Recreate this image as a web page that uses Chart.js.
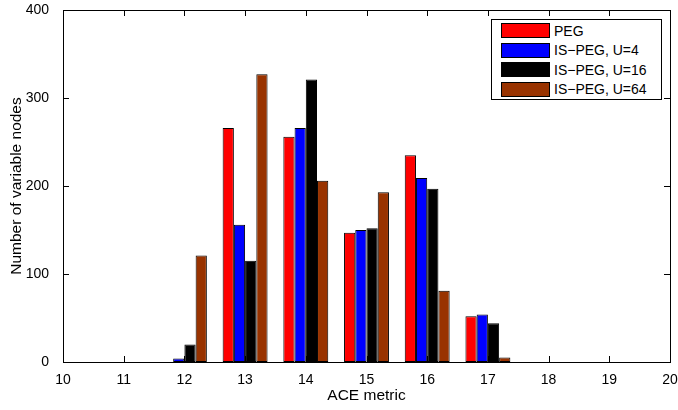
<!DOCTYPE html>
<html>
<head>
<meta charset="utf-8">
<script src="https://cdn.jsdelivr.net/npm/chart.js@4/dist/chart.umd.min.js"></script>
<style>
  html, body { margin: 0; padding: 0; background: #fff; }
  #wrap { position: relative; width: 678px; height: 410px; }
  #legend { position: absolute; left: 491px; top: 19px; width: 171px; height: 81px;
    border: 1px solid #000; background: #fff; box-sizing: border-box;
    font-family: "Liberation Sans", Arial, sans-serif; font-size: 14px; color: #000; }
  .row { position: absolute; left: 9px; height: 15px; display: flex; align-items: center; }
  .sw { width: 47px; height: 13px; border: 1px solid #000; margin-right: 4px; }
</style>
</head>
<body>
<div id="wrap">
  <canvas id="c" width="678" height="410"></canvas>
  <div id="legend"></div>
</div>
<script>
const categories = ['10','11','12','13','14','15','16','17','18','19','20'];
const seriesNames = ['PEG', 'IS\u2212PEG, U=4', 'IS\u2212PEG, U=16', 'IS\u2212PEG, U=64'];
const pegValues  = [0, 0, 0,   266, 256, 147, 235, 52, 0, 0, 0];
const u4Values   = [0, 0, 4,   156, 266, 150, 209, 54, 0, 0, 0];
const u16Values  = [0, 0, 20,  115, 321, 152, 197, 44, 0, 0, 0];
const u64Values  = [0, 0, 121, 327, 206, 193, 81,  5,  0, 0, 0];
const yTicks = [0, 100, 200, 300, 400];
const colors = ['#ff0000', '#0000ff', '#000000', '#993300'];

const allValues = [pegValues, u4Values, u16Values, u64Values];

const boxTicks = {
  id: 'boxTicks',
  afterDraw(chart) {
    const ctx = chart.ctx, a = chart.chartArea;
    const xs = chart.scales.x, ys = chart.scales.y;
    ctx.save();
    ctx.strokeStyle = '#000';
    ctx.lineWidth = 1;
    ctx.strokeRect(Math.round(a.left) + 0.5, Math.round(a.top) + 0.5,
                   Math.round(a.right - a.left), Math.round(a.bottom - a.top));
    const L = 6;
    ctx.beginPath();
    xs.ticks.forEach((t, i) => {
      const px = Math.round(xs.getPixelForTick(i)) + 0.5;
      ctx.moveTo(px, a.bottom); ctx.lineTo(px, a.bottom - L);
      ctx.moveTo(px, a.top); ctx.lineTo(px, a.top + L);
    });
    ys.ticks.forEach((t, i) => {
      const py = Math.round(ys.getPixelForTick(i)) + 0.5;
      ctx.moveTo(a.left, py); ctx.lineTo(a.left + L, py);
      ctx.moveTo(a.right, py); ctx.lineTo(a.right - L, py);
    });
    ctx.stroke();
    ctx.restore();
  }
};

const chart = new Chart(document.getElementById('c'), {
  type: 'bar',
  data: {
    labels: categories,
    datasets: seriesNames.map((n, i) => ({
      label: n,
      data: allValues[i],
      backgroundColor: colors[i],
      borderColor: '#000',
      borderWidth: 1,
      borderSkipped: false,
      barPercentage: 1.0,
      categoryPercentage: 0.74
    }))
  },
  options: {
    responsive: false,
    devicePixelRatio: 1,
    animation: false,
    layout: { padding: { left: 0, right: 8, top: 10, bottom: 0 } },
    plugins: { legend: { display: false }, tooltip: { enabled: false } },
    scales: {
      x: {
        offset: false,
        grid: { display: false, offset: false },
        border: { display: false },
        ticks: { color: '#000', font: { family: 'Liberation Sans', size: 14 }, padding: 2, maxRotation: 0, autoSkip: false },
        title: { display: true, text: 'ACE metric', color: '#000', font: { family: 'Liberation Sans', size: 15.5 }, padding: { top: 0, bottom: 5 } },
        afterFit(s) { s.height = 48; s.paddingLeft = 0; s.paddingRight = 0; }
      },
      y: {
        min: 0, max: 400,
        afterBuildTicks(s) { s.ticks = yTicks.map(v => ({ value: v })); },
        grid: { display: false },
        border: { display: false },
        ticks: { color: '#000', font: { family: 'Liberation Sans', size: 14 }, padding: 6 },
        title: { display: true, text: 'Number of variable nodes', color: '#000', font: { family: 'Liberation Sans', size: 15.5 }, padding: { top: 7, bottom: 0 } },
        afterFit(s) { s.width = 63; s.paddingTop = 0; s.paddingBottom = 0; }
      }
    }
  },
  plugins: [boxTicks]
});

const lg = document.getElementById('legend');
chart.data.datasets.forEach((d, i) => {
  const r = document.createElement('div');
  r.className = 'row';
  r.style.top = (3 + i * 19.5) + 'px';
  const sw = document.createElement('div');
  sw.className = 'sw';
  sw.style.background = d.backgroundColor;
  const t = document.createElement('span');
  t.textContent = d.label;
  r.appendChild(sw); r.appendChild(t);
  lg.appendChild(r);
});
</script>
</body>
</html>
